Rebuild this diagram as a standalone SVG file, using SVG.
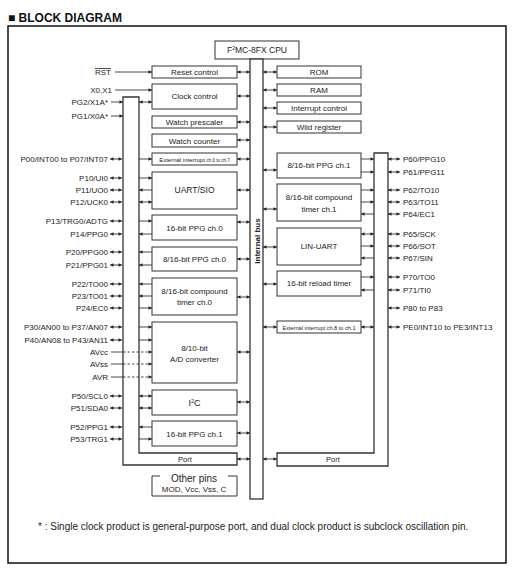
<svg xmlns="http://www.w3.org/2000/svg" width="513" height="572" viewBox="0 0 513 572">
<style>
.t{font-family:"Liberation Sans",Arial,sans-serif;font-size:8px;fill:#222}
.r{text-anchor:end}
.m{text-anchor:middle}
.box{fill:#fff;stroke:#333;stroke-width:1}
.bar{fill:#fff;stroke:#333;stroke-width:1.3}
.c{stroke:#333;stroke-width:0.9;fill:none}
.d{stroke:#333;stroke-width:0.9;fill:none;stroke-dasharray:2.5 2}
.a1{marker-end:url(#ah)}
.a2{marker-start:url(#ah);marker-end:url(#ah)}
</style>
<defs>
<marker id="ah" viewBox="0 0 6 6" refX="6" refY="3" markerWidth="4" markerHeight="3.5" orient="auto-start-reverse" markerUnits="userSpaceOnUse"><path d="M0,0L6,3L0,6z" fill="#222"/></marker>
</defs>
<rect width="513" height="572" fill="#fff"/>
<text x="8" y="22" style="font-family:'Liberation Sans',Arial,sans-serif;font-size:12px;font-weight:bold;fill:#111">■ BLOCK DIAGRAM</text>
<rect x="8" y="26" width="498" height="537" fill="none" stroke="#111" stroke-width="1.5"/>

<g id="cpu"><rect class="box" x="215" y="41" width="84" height="18"/><text class="t m" x="257" y="53" style="font-size:8.5px">F<tspan dy="-3" style="font-size:5px">2</tspan><tspan dy="3">MC-8FX CPU</tspan></text></g>
<g id="bus"><rect class="bar" x="250" y="59" width="13" height="440"/><text class="t m" transform="translate(260,241) rotate(-90)" style="font-weight:bold">Internal bus</text></g>

<g id="portL"><polygon class="bar" points="123,97 139,97 139,453 237,453 237,465 123,465"/><text class="t m" x="185" y="462" style="font-size:7.5px">Port</text></g>
<g id="portR"><polygon class="bar" points="374,153 388,153 388,466 277,466 277,453 374,453"/><text class="t m" x="333" y="462" style="font-size:7.5px">Port</text></g>

<g id="reset"><rect class="box" x="152" y="66" width="85" height="12"/><text class="t m" x="194.5" y="75">Reset control</text></g>
<g id="clock"><rect class="box" x="152" y="84" width="85" height="25"/><text class="t m" x="194.5" y="99">Clock control</text></g>
<g id="wpre"><rect class="box" x="152" y="116" width="85" height="12"/><text class="t m" x="194.5" y="125">Watch prescaler</text></g>
<g id="wcnt"><rect class="box" x="152" y="134" width="85" height="13"/><text class="t m" x="194.5" y="144">Watch counter</text></g>
<g id="extL"><rect class="box" x="152" y="153" width="85" height="12"/><text class="t m" x="194.5" y="162" style="font-size:6px">External interrupt <tspan style="font-size:4.5px">ch.0 to ch.7</tspan></text></g>
<g id="uart"><rect class="box" x="152" y="172" width="85" height="37"/><text class="t m" x="194.5" y="193" style="font-size:8.5px">UART/SIO</text></g>
<g id="ppg16a"><rect class="box" x="152" y="215" width="85" height="25"/><text class="t m" x="194.5" y="231">16-bit PPG ch.0</text></g>
<g id="ppg816a"><rect class="box" x="152" y="247" width="85" height="24"/><text class="t m" x="194.5" y="262">8/16-bit PPG ch.0</text></g>
<g id="ctim0"><rect class="box" x="152" y="278" width="85" height="37"/><text class="t m" x="194.5" y="294">8/16-bit compound</text><text class="t m" x="194.5" y="305">timer ch.0</text></g>
<g id="adc"><rect class="box" x="152" y="322" width="85" height="61"/><text class="t m" x="194.5" y="351">8/10-bit</text><text class="t m" x="194.5" y="362">A/D converter</text></g>
<g id="i2c"><rect class="box" x="152" y="390" width="85" height="25"/><text class="t m" x="194.5" y="406" style="font-size:9px">I<tspan dy="-3" style="font-size:5.5px">2</tspan><tspan dy="3">C</tspan></text></g>
<g id="ppg16b"><rect class="box" x="152" y="421" width="85" height="25"/><text class="t m" x="194.5" y="437">16-bit PPG ch.1</text></g>
<g id="other"><path class="c" d="M160,476H152V496H237V476H228" style="stroke-width:1"/><text class="t m" x="194" y="481.5" style="font-size:10px">Other pins</text><text class="t m" x="194" y="492">MOD, Vcc, Vss, C</text></g>

<g id="rom"><rect class="box" x="277" y="66" width="84" height="12"/><text class="t m" x="319" y="75">ROM</text></g>
<g id="ram"><rect class="box" x="277" y="84" width="84" height="12"/><text class="t m" x="319" y="93">RAM</text></g>
<g id="intc"><rect class="box" x="277" y="102" width="84" height="12"/><text class="t m" x="319" y="111">Interrupt control</text></g>
<g id="wild"><rect class="box" x="277" y="121" width="84" height="12"/><text class="t m" x="319" y="130">Wild register</text></g>
<g id="ppg816b"><rect class="box" x="277" y="153" width="84" height="25"/><text class="t m" x="319" y="168">8/16-bit PPG ch.1</text></g>
<g id="ctim1"><rect class="box" x="277" y="184" width="84" height="37"/><text class="t m" x="319" y="200">8/16-bit compound</text><text class="t m" x="319" y="212">timer ch.1</text></g>
<g id="lin"><rect class="box" x="277" y="228" width="84" height="37"/><text class="t m" x="319" y="249">LIN-UART</text></g>
<g id="reload"><rect class="box" x="277" y="271" width="84" height="25"/><text class="t m" x="319" y="286">16-bit reload timer</text></g>
<g id="extR"><rect class="box" x="277" y="321" width="84" height="12"/><text class="t m" x="319" y="329.5" style="font-size:5.6px">External interrupt ch.8 to ch.1</text></g>

<g id="pinsL">
<text class="t r" x="111" y="75" style="text-decoration:overline">RST</text>
<text class="t r" x="112" y="93">X0,X1</text>
<text class="t r" x="108" y="105">PG2/X1A*</text>
<text class="t r" x="108" y="119">PG1/X0A*</text>
<text class="t r" x="108" y="162">P00/INT00 to P07/INT07</text>
<text class="t r" x="108" y="181">P10/UI0</text>
<text class="t r" x="108" y="193">P11/UO0</text>
<text class="t r" x="108" y="205">P12/UCK0</text>
<text class="t r" x="108" y="224">P13/TRG0/ADTG</text>
<text class="t r" x="108" y="237">P14/PPG0</text>
<text class="t r" x="108" y="255">P20/PPG00</text>
<text class="t r" x="108" y="268">P21/PPG01</text>
<text class="t r" x="108" y="287">P22/TO00</text>
<text class="t r" x="108" y="299">P23/TO01</text>
<text class="t r" x="108" y="311">P24/EC0</text>
<text class="t r" x="108" y="330">P30/AN00 to P37/AN07</text>
<text class="t r" x="108" y="343">P40/AN08 to P43/AN11</text>
<text class="t r" x="108" y="355">AVcc</text>
<text class="t r" x="108" y="367">AVss</text>
<text class="t r" x="108" y="380">AVR</text>
<text class="t r" x="108" y="399">P50/SCL0</text>
<text class="t r" x="108" y="411">P51/SDA0</text>
<text class="t r" x="108" y="430">P52/PPG1</text>
<text class="t r" x="108" y="442">P53/TRG1</text>
</g>
<g id="pinsR">
<text class="t" x="403" y="162">P60/PPG10</text>
<text class="t" x="403" y="175">P61/PPG11</text>
<text class="t" x="403" y="193">P62/TO10</text>
<text class="t" x="403" y="205">P63/TO11</text>
<text class="t" x="403" y="217">P64/EC1</text>
<text class="t" x="403" y="237">P65/SCK</text>
<text class="t" x="403" y="249">P66/SOT</text>
<text class="t" x="403" y="261">P67/SIN</text>
<text class="t" x="403" y="280">P70/TO0</text>
<text class="t" x="403" y="293">P71/TI0</text>
<text class="t" x="403" y="311">P80 to P83</text>
<text class="t" x="403" y="330">PE0/INT10 to PE3/INT13</text>
</g>

<g id="connectors">
<line class="c a1" x1="115" y1="72" x2="152" y2="72"/>
<line class="c a1" x1="115" y1="90" x2="152" y2="90"/>
<line class="c a1" x1="111" y1="102" x2="123" y2="102"/>
<line class="c a1" x1="111" y1="116" x2="123" y2="116"/>
<line class="c a2" x1="110" y1="159" x2="122" y2="159"/>
<line class="c a2" x1="110" y1="178" x2="122" y2="178"/>
<line class="c a2" x1="110" y1="190" x2="122" y2="190"/>
<line class="c a2" x1="110" y1="202" x2="122" y2="202"/>
<line class="c a2" x1="110" y1="221" x2="122" y2="221"/>
<line class="c a2" x1="110" y1="234" x2="122" y2="234"/>
<line class="c a2" x1="110" y1="252" x2="122" y2="252"/>
<line class="c a2" x1="110" y1="265" x2="122" y2="265"/>
<line class="c a2" x1="110" y1="284" x2="122" y2="284"/>
<line class="c a2" x1="110" y1="296" x2="122" y2="296"/>
<line class="c a2" x1="110" y1="308" x2="122" y2="308"/>
<line class="c a2" x1="110" y1="327" x2="122" y2="327"/>
<line class="c a2" x1="110" y1="340" x2="122" y2="340"/>
<line class="c a2" x1="110" y1="396" x2="122" y2="396"/>
<line class="c a2" x1="110" y1="408" x2="122" y2="408"/>
<line class="c a2" x1="110" y1="427" x2="122" y2="427"/>
<line class="c a2" x1="110" y1="439" x2="122" y2="439"/>
<line class="c" x1="111" y1="352" x2="123" y2="352"/><line class="d a1" x1="123" y1="352" x2="152" y2="352"/>
<line class="c" x1="111" y1="364" x2="123" y2="364"/><line class="d a1" x1="123" y1="364" x2="152" y2="364"/>
<line class="c" x1="111" y1="377" x2="123" y2="377"/><line class="d a1" x1="123" y1="377" x2="152" y2="377"/>
<line class="c a2" x1="139" y1="102" x2="152" y2="102"/>
<line class="c a1" x1="139" y1="159" x2="152" y2="159"/>
<line class="c a1" x1="139" y1="178" x2="152" y2="178"/>
<line class="c a1" x1="152" y1="190" x2="139" y2="190"/>
<line class="c a2" x1="139" y1="202" x2="152" y2="202"/>
<line class="c a1" x1="139" y1="221" x2="152" y2="221"/>
<line class="c a1" x1="152" y1="234" x2="139" y2="234"/>
<line class="c a1" x1="152" y1="252" x2="139" y2="252"/>
<line class="c a1" x1="152" y1="265" x2="139" y2="265"/>
<line class="c a1" x1="152" y1="284" x2="139" y2="284"/>
<line class="c a1" x1="152" y1="296" x2="139" y2="296"/>
<line class="c a1" x1="139" y1="308" x2="152" y2="308"/>
<line class="c a1" x1="139" y1="327" x2="152" y2="327"/>
<line class="c a1" x1="139" y1="340" x2="152" y2="340"/>
<line class="c a2" x1="139" y1="396" x2="152" y2="396"/>
<line class="c a2" x1="139" y1="408" x2="152" y2="408"/>
<line class="c a1" x1="152" y1="427" x2="139" y2="427"/>
<line class="c a1" x1="139" y1="439" x2="152" y2="439"/>
<line class="c a2" x1="237" y1="72" x2="250" y2="72"/>
<line class="c a2" x1="237" y1="96" x2="250" y2="96"/>
<line class="c a2" x1="237" y1="122" x2="250" y2="122"/>
<line class="c a2" x1="237" y1="140" x2="250" y2="140"/>
<line class="c a2" x1="237" y1="159" x2="250" y2="159"/>
<line class="c a2" x1="237" y1="190" x2="250" y2="190"/>
<line class="c a2" x1="237" y1="222" x2="250" y2="222"/>
<line class="c a2" x1="237" y1="259" x2="250" y2="259"/>
<line class="c a2" x1="237" y1="297" x2="250" y2="297"/>
<line class="c a2" x1="237" y1="352" x2="250" y2="352"/>
<line class="c a2" x1="237" y1="402" x2="250" y2="402"/>
<line class="c a2" x1="237" y1="433" x2="250" y2="433"/>
<line class="c a2" x1="237" y1="459" x2="250" y2="459"/>
<line class="c a2" x1="263" y1="72" x2="277" y2="72"/>
<line class="c a2" x1="263" y1="90" x2="277" y2="90"/>
<line class="c a2" x1="263" y1="108" x2="277" y2="108"/>
<line class="c a2" x1="263" y1="127" x2="277" y2="127"/>
<line class="c a2" x1="263" y1="170" x2="277" y2="170"/>
<line class="c a2" x1="263" y1="209" x2="277" y2="209"/>
<line class="c a2" x1="263" y1="247" x2="277" y2="247"/>
<line class="c a2" x1="263" y1="284" x2="277" y2="284"/>
<line class="c a2" x1="263" y1="327" x2="277" y2="327"/>
<line class="c a2" x1="263" y1="459" x2="277" y2="459"/>
<line class="c a1" x1="361" y1="159" x2="374" y2="159"/>
<line class="c a1" x1="361" y1="172" x2="374" y2="172"/>
<line class="c a1" x1="361" y1="190" x2="374" y2="190"/>
<line class="c a1" x1="361" y1="202" x2="374" y2="202"/>
<line class="c a1" x1="374" y1="214" x2="361" y2="214"/>
<line class="c a2" x1="361" y1="234" x2="374" y2="234"/>
<line class="c a1" x1="361" y1="246" x2="374" y2="246"/>
<line class="c a1" x1="374" y1="258" x2="361" y2="258"/>
<line class="c a1" x1="361" y1="277" x2="374" y2="277"/>
<line class="c a1" x1="374" y1="290" x2="361" y2="290"/>
<line class="c a2" x1="361" y1="327" x2="374" y2="327"/>
<line class="c a2" x1="388" y1="159" x2="400" y2="159"/>
<line class="c a2" x1="388" y1="172" x2="400" y2="172"/>
<line class="c a2" x1="388" y1="190" x2="400" y2="190"/>
<line class="c a2" x1="388" y1="202" x2="400" y2="202"/>
<line class="c a2" x1="388" y1="214" x2="400" y2="214"/>
<line class="c a2" x1="388" y1="234" x2="400" y2="234"/>
<line class="c a2" x1="388" y1="246" x2="400" y2="246"/>
<line class="c a2" x1="388" y1="258" x2="400" y2="258"/>
<line class="c a2" x1="388" y1="277" x2="400" y2="277"/>
<line class="c a2" x1="388" y1="290" x2="400" y2="290"/>
<line class="c a2" x1="388" y1="308" x2="400" y2="308"/>
<line class="c a2" x1="388" y1="327" x2="400" y2="327"/>
</g>

<text class="t" x="38" y="530" style="font-size:10px">*  : Single clock product is general-purpose port, and dual clock product is subclock oscillation pin.</text>
</svg>
